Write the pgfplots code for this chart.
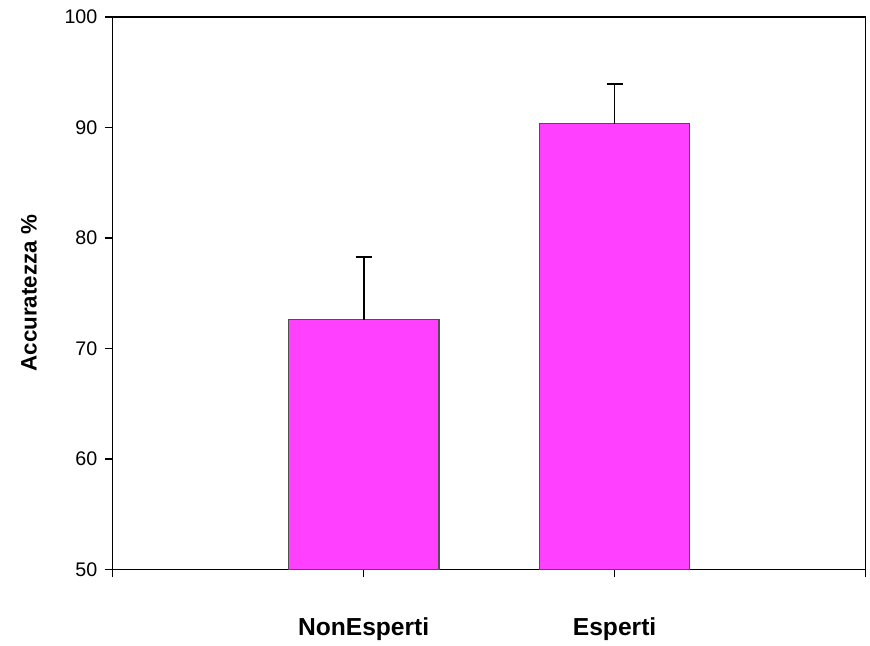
\documentclass[border=0pt]{standalone}
\usepackage{pgfplots}
\pgfplotsset{compat=1.18}
\usepackage{fontspec}
\setmainfont{Liberation Sans}
\definecolor{barfill}{RGB}{255,64,255}
\definecolor{baredge}{RGB}{80,80,80}
\begin{document}
\begin{tikzpicture}[x=1pt,y=1pt]
\begin{axis}[
  scale only axis,
  width=566.25pt, height=415.5pt,
  at={(0,0)}, anchor=south west,
  xmin=0, xmax=3, ymin=50, ymax=100,
  xtick={0,1,2,3}, xticklabels={,NonEsperti,Esperti,},
  ytick={50,60,...,100},
  tick align=outside,
  xtick pos=bottom, ytick pos=left,
  major tick length=6pt,
  axis line style={line width=1.1pt},
  tick style={line width=1.1pt, black},
  ticklabel style={font=\fontsize{14.8}{16}\selectfont},
  xticklabel style={font=\fontsize{18.5}{20}\selectfont\bfseries, yshift=-27pt},
  yticklabel style={xshift=-2pt},
  /pgf/number format/assume math mode=true,
  ylabel={\textbf{Accuratezza \%}},
  ylabel style={font=\fontsize{16.8}{18}\selectfont, yshift=14pt},
  clip=true,
]
\addplot[ybar, bar width=0.6, fill=barfill, draw=baredge, line width=0.9pt,
  error bars/.cd, y dir=plus, y explicit,
  error bar style={line width=1.3pt, black},
  error mark options={rotate=90, mark size=6pt, line width=1.3pt, black}]
  coordinates {(1,72.6) +- (0,5.7) (2,90.35) +- (0,3.6)};
\end{axis}
\path (-84.75pt,-54pt) rectangle (567.75pt,428.25pt);
\end{tikzpicture}
\end{document}
